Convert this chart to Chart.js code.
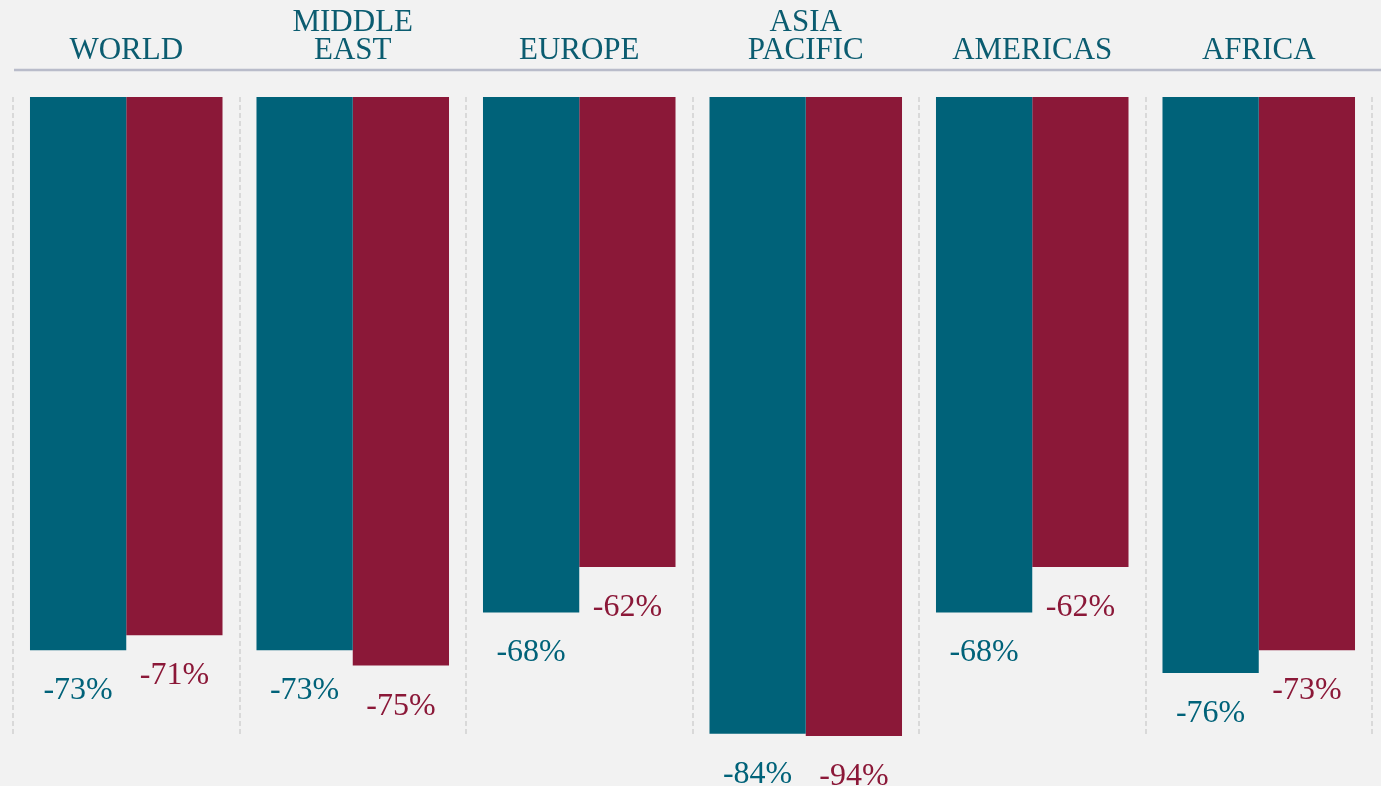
<!DOCTYPE html>
<html>
<head>
<meta charset="utf-8">
<title>Change by region</title>
<script src="https://cdn.jsdelivr.net/npm/chart.js@4/dist/chart.umd.min.js"></script>
<style>
    html, body { margin: 0; padding: 0; background: #f2f2f2; }
    canvas { display: block; }
</style>
</head>
<body>
<canvas id="regionChart" width="1381" height="786"></canvas>
<script>
// Regions (multi-line headers)
const regions = [['WORLD'], ['MIDDLE', 'EAST'], ['EUROPE'], ['ASIA', 'PACIFIC'], ['AMERICAS'], ['AFRICA']];
// Two series, percent change
const seriesTeal = [-73, -73, -68, -84, -68, -76];
const seriesRed = [-71, -75, -62, -94, -62, -73];

const tealColor = '#006279';
const redColor = '#8b1838';

// Header rule above the bars
const headerRule = {
    id: 'headerRule',
    beforeDraw(chart) {
        const ctx = chart.ctx;
        ctx.save();
        ctx.strokeStyle = '#b9bcca';
        ctx.lineWidth = 2.5;
        ctx.beginPath();
        ctx.moveTo(chart.chartArea.left + 1, 70);
        ctx.lineTo(chart.width, 70);
        ctx.stroke();
        ctx.restore();
    }
};

// Value labels under each bar end (clipped bars use the chart bottom)
const valueLabels = {
    id: 'valueLabels',
    afterDatasetsDraw(chart) {
        const ctx = chart.ctx;
        const bottom = chart.chartArea.bottom;
        ctx.save();
        ctx.font = '32px "Liberation Serif", serif';
        ctx.textAlign = 'center';
        ctx.textBaseline = 'alphabetic';
        chart.data.datasets.forEach((ds, i) => {
            chart.getDatasetMeta(i).data.forEach((bar, j) => {
                const end = Math.min(bar.y, bottom);
                ctx.fillStyle = ds.backgroundColor;
                ctx.fillText(ds.data[j] + '%', bar.x, end + 49);
            });
        });
        ctx.restore();
    }
};

const ctx = document.getElementById('regionChart').getContext('2d');
new Chart(ctx, {
    type: 'bar',
    data: {
        labels: regions,
        datasets: [
            { data: seriesTeal, backgroundColor: tealColor },
            { data: seriesRed, backgroundColor: redColor }
        ]
    },
    options: {
        responsive: false,
        animation: false,
        devicePixelRatio: 1,
        layout: { padding: { left: 13, right: 9, top: 0, bottom: 50 } },
        datasets: { bar: { categoryPercentage: 0.85, barPercentage: 1.0 } },
        plugins: { legend: { display: false }, tooltip: { enabled: false } },
        scales: {
            x: {
                position: 'top',
                afterFit(scale) { scale.height = 97; },
                border: { display: false, dash: [5, 3] },
                grid: {
                    offset: true,
                    drawTicks: false,
                    color: '#d9d9d9',
                    lineWidth: 2
                },
                ticks: {
                    color: '#0b5c70',
                    padding: 32,
                    font: { family: '"Liberation Serif", serif', size: 31, lineHeight: 0.9 }
                }
            },
            y: {
                display: false,
                min: -84.3,
                max: 0
            }
        }
    },
    plugins: [headerRule, valueLabels]
});
</script>
</body>
</html>
